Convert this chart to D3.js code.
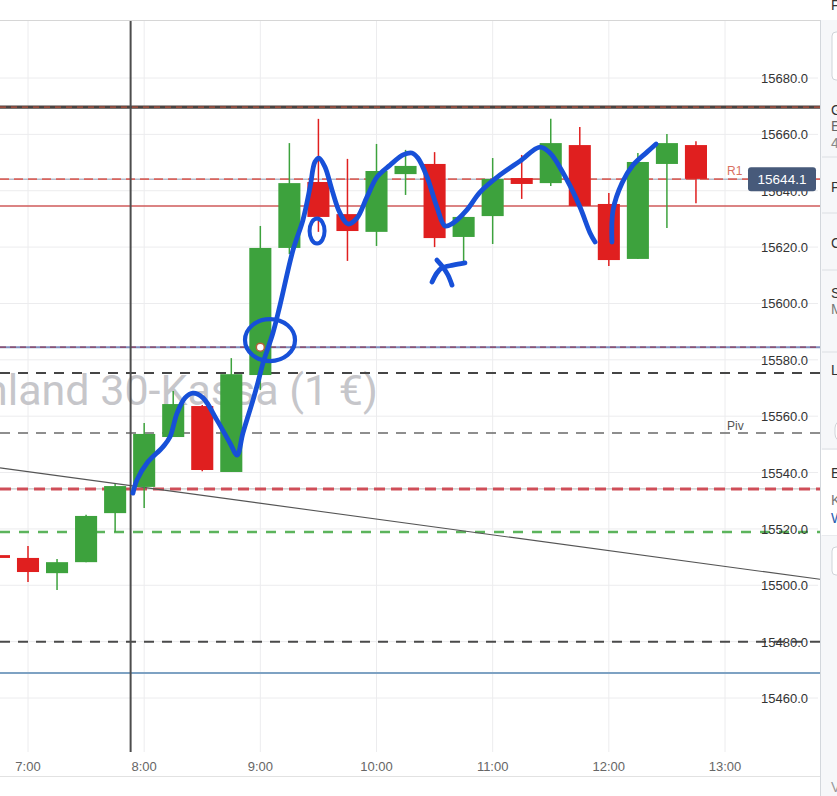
<!DOCTYPE html>
<html><head><meta charset="utf-8">
<script src="https://cdn.jsdelivr.net/npm/d3@7/dist/d3.min.js"></script>
<style>html,body{margin:0;padding:0;background:#fff;}svg{display:block;}</style>
</head><body>
<svg id="c" width="837" height="796"></svg>
<script>
// ---------------- DATA ----------------
const candleTimes = ["6:45","7:00","7:15","7:30","7:45","8:00","8:15","8:30","8:45","9:00","9:15","9:30","9:45","10:00","10:15","10:30","10:45","11:00","11:15","11:30","11:45","12:00","12:15","12:30","12:45"];
const opens  = [15510.7,15509.7,15504.3,15508.2,15525.6,15534.9,15552.6,15563.6,15540.2,15574.6,15619.7,15643.1,15631.7,15625.4,15645.9,15649.5,15623.6,15631.0,15644.5,15642.7,15656.2,15635.3,15615.8,15649.5,15656.2];
const highs  = [15511.5,15513.9,15509.3,15525.0,15535.9,15557.6,15568.9,15564.0,15580.6,15627.5,15656.9,15665.5,15651.3,15656.6,15654.5,15653.7,15631.0,15651.6,15652.7,15665.5,15662.6,15639.2,15653.4,15660.1,15657.6];
const lows   = [15508.5,15501.2,15498.3,15508.2,15518.9,15527.4,15552.6,15540.5,15540.2,15569.3,15617.5,15625.4,15615.1,15620.4,15638.5,15620.0,15614.7,15621.1,15637.1,15641.7,15634.6,15613.3,15615.8,15626.8,15635.6];
const closes = [15509.7,15504.7,15508.2,15524.6,15535.2,15553.7,15564.3,15540.9,15574.9,15619.7,15642.7,15630.7,15625.7,15647.0,15648.8,15623.2,15630.7,15644.2,15642.4,15656.9,15634.6,15615.4,15650.2,15656.9,15644.2];

const priceTicks = [15460,15480,15500,15520,15540,15560,15580,15600,15620,15640,15660,15680];
const timeTicks = ["7:00","8:00","9:00","10:00","11:00","12:00","13:00"];

const levelNames  = ["top","R1","redSolid","entry","darkDash1","Piv","redDash","greenDash","darkDash2","blueSolid"];
const levelValues = [15669.7,15644.1,15634.6,15584.5,15575.3,15554.0,15534.2,15518.9,15480.0,15468.9];
const levelLabels = {R1:"R1", Piv:"Piv"};

const trendTimes  = ["7:00","13:00"];
const trendPrices = [15540.3,15506.7];
const cursorTime = "7:53";
const lastPrice = 15644.1;
const watermark = "Deutschland 30-Kassa (1 €)";

// hand-drawn annotation strokes (minutes of day, price)
const strokeMainT = [474.2,476.3,481.5,489.7,493.3,497.0,501.1,505.2,510.4,517.6,524.3,528.0,531.0,536.2,538.8,541.4,546.5,550.2,556.9,562.0,565.7,568.2,570.3,573.4,577.0,581.1,585.3,589.9,595.1,600.3,607.0,613.7,618.3,621.4,626.1,631.2,635.4,639.5,646.7,653.5,663.8,674.1,684.4,689.6,698.4,705.1,710.3,712.9];
const strokeMainP = [15532.7,15537.4,15543.4,15549.1,15552.6,15561.1,15566.5,15568.2,15566.5,15558.6,15550.5,15546.2,15554.0,15565.7,15572.1,15578.9,15589.5,15599.5,15619.0,15629.6,15641.3,15650.2,15651.6,15648.4,15640.3,15632.1,15628.2,15630.3,15637.8,15644.9,15649.1,15652.7,15653.4,15651.6,15644.9,15634.2,15627.5,15628.5,15633.2,15639.5,15645.6,15650.5,15655.5,15653.4,15643.8,15634.2,15625.0,15621.8];
const stroke2T = [721.6,722.2,726.8,732.5,739.7,744.4];
const stroke2P = [15621.8,15633.2,15642.7,15649.1,15653.7,15656.6];
const xStrokeAT = [631.2,634.3,636.9,639.0];
const xStrokeAP = [15615.4,15612.9,15610.1,15606.5];
const xStrokeBT = [628.7,631.2,633.8,639.5,645.7];
const xStrokeBP = [15607.6,15610.8,15612.6,15613.6,15614.4];
const circleCenter = {t:545.0, p:15587.0};
const oCenter = {t:569.3, p:15625.7};
const entryMarker = {t:540, p:15584.5};

// ---------------- SCALES ----------------
const toMin = s => { const [h,m] = s.split(":").map(Number); return h*60+m; };
const x = d3.scaleLinear().domain([420,780]).range([28,725]);
const y = d3.scaleLinear().domain([15460,15680]).range([698,78]);

const W = 837, H = 796, plotR = 820, plotT = 20, plotB = 752;
const svg = d3.select("#c");
const font = "'Liberation Sans', Arial, sans-serif";

svg.append("rect").attr("width",W).attr("height",H).attr("fill","#fff");

const defs = svg.append("defs");
defs.append("clipPath").attr("id","plot").append("rect")
  .attr("x",0).attr("y",plotT).attr("width",plotR).attr("height",plotB-plotT);

// grid
const grid = svg.append("g");
grid.selectAll(".hg").data(priceTicks).join("line")
  .attr("x1",0).attr("x2",plotR-2).attr("y1",d=>y(d)).attr("y2",d=>y(d))
  .attr("stroke","#ececee").attr("stroke-width",1);
grid.selectAll(".vg").data(timeTicks).join("line")
  .attr("x1",d=>x(toMin(d))).attr("x2",d=>x(toMin(d))).attr("y1",plotT).attr("y2",plotB)
  .attr("stroke","#ececee").attr("stroke-width",1);

const plot = svg.append("g").attr("clip-path","url(#plot)");

// watermark
plot.append("text").attr("x",378).attr("y",405).attr("text-anchor","end")
  .attr("font-family","Roboto, Arial, sans-serif").attr("font-size",43)
  .attr("fill","#c6c6ca").text(watermark);

// level lines
const levelStyle = {
  top:       [{c:"#4a4240",w:3.2,d:null},{c:"#b5533e",w:1.2,d:"6,5"}],
  R1:        [{c:"#b4bccb",w:1.5,d:null},{c:"#d9655e",w:1.6,d:"9,5"}],
  redSolid:  [{c:"#cf5a5a",w:1.6,d:null}],
  entry:     [{c:"#7f8fbf",w:2,d:null},{c:"#8e3f5c",w:1.4,d:"6,4"}],
  darkDash1: [{c:"#454545",w:2,d:"10,8"}],
  Piv:       [{c:"#6a6a6a",w:1.5,d:"10,8"}],
  redDash:   [{c:"#b9b9b9",w:1,d:null},{c:"#cf4e58",w:3,d:"11,6"}],
  greenDash: [{c:"#5cb45c",w:2.6,d:"10,9"}],
  darkDash2: [{c:"#4a4a4a",w:2,d:"10,8"}],
  blueSolid: [{c:"#7ea2c3",w:2,d:null}]
};
levelNames.forEach((n,i)=>{
  levelStyle[n].forEach(s=>{
    plot.append("line").attr("x1",0).attr("x2",plotR).attr("y1",y(levelValues[i])).attr("y2",y(levelValues[i]))
      .attr("stroke",s.c).attr("stroke-width",s.w).attr("stroke-dasharray",s.d);
  });
});

// trend line
const tx0 = toMin(trendTimes[0]), tx1 = toMin(trendTimes[1]);
const slope = (trendPrices[1]-trendPrices[0])/(tx1-tx0);
const xMin = x.invert(0), xMax = x.invert(plotR);
plot.append("line")
  .attr("x1",0).attr("y1",y(trendPrices[0]+slope*(xMin-tx0)))
  .attr("x2",plotR).attr("y2",y(trendPrices[0]+slope*(xMax-tx0)))
  .attr("stroke","#555").attr("stroke-width",1.1);

// cursor vertical
plot.append("line").attr("x1",x(toMin(cursorTime))).attr("x2",x(toMin(cursorTime)))
  .attr("y1",plotT).attr("y2",plotB).attr("stroke","#4d4d4d").attr("stroke-width",2);

// candles
const step = x(15)-x(0), bw = step*0.76;
const candles = candleTimes.map((t,i)=>({t:toMin(t),o:opens[i],h:highs[i],l:lows[i],c:closes[i]}));
const col = d => d.c>=d.o ? "#3da23d" : "#e01f1f";
const cg = plot.append("g");
cg.selectAll(".wick").data(candles).join("line")
  .attr("x1",d=>x(d.t)).attr("x2",d=>x(d.t)).attr("y1",d=>y(d.h)).attr("y2",d=>y(d.l))
  .attr("stroke",col).attr("stroke-width",1.5);
cg.selectAll(".body").data(candles).join("rect")
  .attr("x",d=>x(d.t)-bw/2).attr("width",bw)
  .attr("y",d=>y(Math.max(d.o,d.c))).attr("height",d=>Math.max(1,Math.abs(y(d.o)-y(d.c))))
  .attr("fill",col);

// level labels
plot.append("text").attr("x",727).attr("y",y(levelValues[1])-4).attr("font-family",font).attr("font-size",12)
  .attr("fill","#d9705f").text(levelLabels.R1);
plot.append("text").attr("x",727).attr("y",y(levelValues[5])-3).attr("font-family",font).attr("font-size",12)
  .attr("fill","#555").text(levelLabels.Piv);

// entry marker
plot.append("circle").attr("cx",x(entryMarker.t)).attr("cy",y(entryMarker.p)).attr("r",4)
  .attr("fill","#fff").attr("stroke","#b5603a").attr("stroke-width",1.5);

// annotations
const blue = "#1750d8";
const pen = d3.line().x(d=>x(d[0])).y(d=>y(d[1])).curve(d3.curveCatmullRom.alpha(0.5));
const annot = plot.append("g").attr("fill","none").attr("stroke",blue).attr("stroke-width",4.8)
  .attr("stroke-linecap","round").attr("stroke-linejoin","round");
const drawStroke = (T,P) => annot.append("path").attr("d",pen(T.map((t,i)=>[t,P[i]])));
drawStroke(strokeMainT,strokeMainP);
drawStroke(stroke2T,stroke2P);
drawStroke(xStrokeAT,xStrokeAP);
drawStroke(xStrokeBT,xStrokeBP);
annot.append("ellipse").attr("cx",x(circleCenter.t)).attr("cy",y(circleCenter.p)).attr("rx",25).attr("ry",21).attr("stroke-width",4.2);
annot.append("ellipse").attr("cx",x(oCenter.t)).attr("cy",y(oCenter.p)).attr("rx",7.5).attr("ry",12.5).attr("stroke-width",4);

// price axis labels
svg.append("g").selectAll("text").data(priceTicks).join("text")
  .attr("x",808).attr("y",d=>y(d)+5).attr("text-anchor","end")
  .attr("font-family",font).attr("font-size",13).attr("fill","#333")
  .text(d=>d3.format(".1f")(d));

// last price tag
const tg = svg.append("g");
tg.append("rect").attr("x",748).attr("y",y(lastPrice)-12).attr("width",68).attr("height",24).attr("rx",3)
  .attr("fill","#475a7a");
tg.append("text").attr("x",782).attr("y",y(lastPrice)+5).attr("text-anchor","middle")
  .attr("font-family",font).attr("font-size",13.5).attr("fill","#fff").text(d3.format(".1f")(lastPrice));

// time axis labels
svg.append("g").selectAll("text").data(timeTicks).join("text")
  .attr("x",d=>x(toMin(d))).attr("y",771).attr("text-anchor","middle")
  .attr("font-family",font).attr("font-size",13).attr("fill","#666").text(d=>d);

// frame lines
svg.append("line").attr("x1",0).attr("x2",plotR).attr("y1",20.5).attr("y2",20.5).attr("stroke","#d6d6d6");
svg.append("line").attr("x1",0).attr("x2",plotR).attr("y1",776.5).attr("y2",776.5).attr("stroke","#e2e2e2");

// right side panel (cut off)
const pnl = svg.append("g");
pnl.append("rect").attr("x",820).attr("y",20).attr("width",17).attr("height",776).attr("fill","#f6f7f9");
pnl.append("line").attr("x1",820.5).attr("x2",820.5).attr("y1",20).attr("y2",796).attr("stroke","#d3d7dc");
pnl.append("rect").attr("x",832).attr("y",32).attr("width",20).attr("height",48).attr("rx",4).attr("fill","#fff").attr("stroke","#cfd3d8");
[157,213,270,352,449,535].forEach(v=>pnl.append("line").attr("x1",822).attr("x2",837).attr("y1",v).attr("y2",v).attr("stroke","#dcdfe3"));
pnl.append("rect").attr("x",821).attr("y",450).attr("width",16).attr("height",85).attr("fill","#fff");
pnl.append("rect").attr("x",832).attr("y",547).attr("width",20).attr("height",28).attr("rx",4).attr("fill","#fff").attr("stroke","#cfd3d8");
pnl.append("rect").attr("x",835).attr("y",420).attr("width",20).attr("height",22).attr("rx",8).attr("fill","#fff").attr("stroke","#cfd3d8");
const pLetters = [["G",115,"#333"],["E",131,"#666"],["4",148,"#888"],["P",192,"#333"],["C",248,"#333"],["S",298,"#333"],["M",314,"#777"],["L",375,"#333"],["E",478,"#333"],["K",505,"#777"],["W",523,"#2a5db0"],["V",792,"#999"]];
pLetters.forEach(l=>pnl.append("text").attr("x",831).attr("y",l[1]).attr("font-family",font).attr("font-size",14).attr("fill",l[2]).text(l[0]));
svg.append("text").attr("x",831).attr("y",10).attr("font-family",font).attr("font-size",14).attr("fill","#333").text("F");
</script>
</body></html>
